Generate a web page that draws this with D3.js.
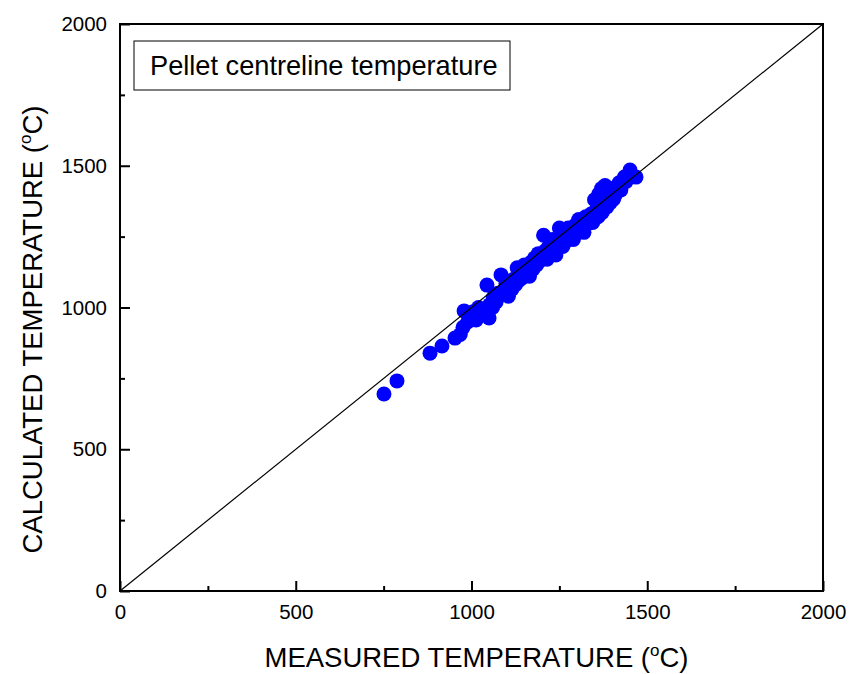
<!DOCTYPE html>
<html>
<head>
<meta charset="utf-8">
<script src="https://cdn.jsdelivr.net/npm/d3@7"></script>
<style>
  body { margin: 0; background: #fff; }
  text { font-family: "Liberation Sans", Arial, sans-serif; }
</style>
</head>
<body>
<div class="chart"></div>
<script>
var w = 849,
  h = 674,
  margin = {top: 24, right: 26, bottom: 83, left: 120};

var xTicks = [0, 500, 1000, 1500, 2000],
  yTicks = [0, 500, 1000, 1500, 2000],
  minorTicks = [250, 750, 1250, 1750];

// measured temperature (C)
var measured = [751, 788, 882, 916, 953, 968, 976, 979, 990, 1000, 1005, 1013, 1020, 1025, 1035, 1044, 1050, 1052,
  1060, 1062, 1070, 1075, 1084, 1090, 1095, 1100, 1105, 1110, 1115, 1120, 1125, 1130, 1135, 1140, 1145,
  1150, 1155, 1160, 1165, 1170, 1175, 1180, 1185, 1190, 1195, 1200, 1205, 1210, 1215, 1220, 1225, 1230,
  1235, 1240, 1245, 1250, 1255, 1260, 1265, 1270, 1275, 1280, 1285, 1290, 1295, 1300, 1305, 1310, 1315,
  1320, 1325, 1330, 1335, 1340, 1345, 1350, 1355, 1360, 1362, 1365, 1370, 1372, 1378, 1380, 1385, 1390,
  1395, 1400, 1405, 1410, 1420, 1425, 1435, 1440, 1451, 1468, 1098, 1142, 1188, 1232, 1268, 1302, 1338,
  1372, 1402, 1158, 1212, 1258, 1318];
// calculated temperature (C)
var calculated = [695, 741, 839, 864, 892, 905, 930, 988, 950, 962, 985, 956, 1000, 975, 990, 1079, 963, 1010,
  1000, 1035, 1020, 1050, 1115, 1045, 1060, 1075, 1040, 1090, 1065, 1100, 1080, 1140, 1095, 1120, 1105,
  1150, 1125, 1140, 1110, 1160, 1135, 1175, 1150, 1190, 1165, 1180, 1255, 1200, 1170, 1215, 1195, 1240,
  1210, 1185, 1225, 1280, 1240, 1215, 1255, 1235, 1280, 1250, 1270, 1240, 1290, 1265, 1310, 1280, 1300,
  1265, 1320, 1295, 1310, 1330, 1300, 1380, 1345, 1320, 1400, 1360, 1420, 1335, 1380, 1430, 1355, 1400,
  1370, 1420, 1385, 1400, 1440, 1415, 1460, 1445, 1485, 1460, 1085, 1118, 1160, 1205, 1245, 1282, 1318,
  1352, 1380, 1130, 1180, 1230, 1288];

var points = measured.map(function (m, i) {
  return {x: m, y: calculated[i]};
});

var svg = d3.select('.chart')
  .append('svg')
  .attr('width', w)
  .attr('height', h);

var x = d3.scaleLinear().domain([0, 2000]).range([margin.left, w - margin.right]);
var y = d3.scaleLinear().domain([0, 2000]).range([h - margin.bottom, margin.top]);

// points
svg.selectAll('circle')
  .data(points)
  .enter()
  .append('circle')
  .attr('cx', function (d) { return x(d.x); })
  .attr('cy', function (d) { return y(d.y); })
  .attr('r', 7.5)
  .attr('fill', '#0000ff');

// 1:1 line, on top of the cluster
svg.append('line')
  .attr('x1', x(0)).attr('y1', y(0))
  .attr('x2', x(2000)).attr('y2', y(2000))
  .attr('stroke', '#000')
  .attr('stroke-width', 1.2);

// frame
svg.append('rect')
  .attr('x', x(0)).attr('y', y(2000))
  .attr('width', x(2000) - x(0))
  .attr('height', y(0) - y(2000))
  .attr('fill', 'none')
  .attr('stroke', '#000')
  .attr('stroke-width', 2);

// axes with inward ticks
var xAxis = d3.axisBottom(x).tickValues(xTicks).tickSize(-10).tickPadding(13).tickFormat(d3.format('d'));
var yAxis = d3.axisLeft(y).tickValues(yTicks).tickSize(-10).tickPadding(13).tickFormat(d3.format('d'));

var gx = svg.append('g').attr('transform', 'translate(0,' + y(0) + ')').call(xAxis);
var gy = svg.append('g').attr('transform', 'translate(' + x(0) + ',0)').call(yAxis);

svg.append('g').attr('transform', 'translate(0,' + y(0) + ')')
  .call(d3.axisBottom(x).tickValues(minorTicks).tickSize(-5).tickFormat(''));
svg.append('g').attr('transform', 'translate(' + x(0) + ',0)')
  .call(d3.axisLeft(y).tickValues(minorTicks).tickSize(-5).tickFormat(''));

svg.selectAll('.domain').remove();
svg.selectAll('.tick line').attr('stroke', '#000').attr('stroke-width', 2);
[gx, gy].forEach(function (g) {
  g.attr('font-size', 20.5).attr('font-family', '"Liberation Sans", Arial, sans-serif');
  g.selectAll('text').attr('fill', '#000');
});

// legend box
svg.append('rect')
  .attr('x', 134).attr('y', 41)
  .attr('width', 376).attr('height', 49)
  .attr('fill', '#fff')
  .attr('stroke', '#000')
  .attr('stroke-width', 1);
svg.append('text')
  .attr('x', 150).attr('y', 75)
  .attr('font-size', 27.2)
  .text('Pellet centreline temperature');

// axis titles
var xt = svg.append('text')
  .attr('x', (x(0) + x(2000)) / 2 + 5).attr('y', 667)
  .attr('text-anchor', 'middle')
  .attr('font-size', 27.5);
xt.append('tspan').text('MEASURED TEMPERATURE (');
xt.append('tspan').attr('font-size', 17).attr('dy', -11).text('o');
xt.append('tspan').attr('dy', 11).text('C)');

var yt = svg.append('text')
  .attr('transform', 'translate(42,' + ((y(0) + y(2000)) / 2 + 22) + ') rotate(-90)')
  .attr('text-anchor', 'middle')
  .attr('font-size', 27.5);
yt.append('tspan').text('CALCULATED TEMPERATURE (');
yt.append('tspan').attr('font-size', 17).attr('dy', -11).text('o');
yt.append('tspan').attr('dy', 11).text('C)');
</script>
</body>
</html>
